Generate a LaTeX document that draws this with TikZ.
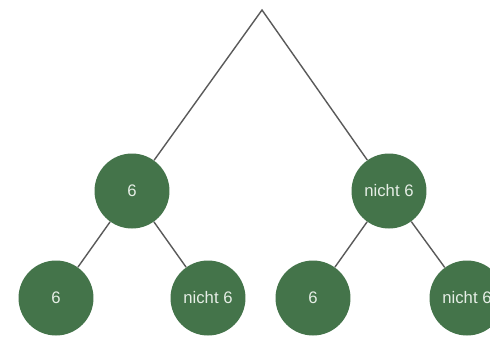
\documentclass[tikz,border=0pt]{standalone}
\usepackage{fontspec}
\setmainfont{Liberation Sans}
\definecolor{NodeGreen}{HTML}{44744A}
\definecolor{EdgeGrey}{HTML}{5A5A5A}
\definecolor{LabelInk}{HTML}{E6EEE6}
\begin{document}
\begin{tikzpicture}[
  x=0.02cm,y=-0.02cm,
  outcome/.style={circle,fill=NodeGreen,minimum size=1.5cm,inner sep=0pt,
                  text=LabelInk,font=\fontsize{9.5}{10}\selectfont},
  branch/.style={draw=EdgeGrey,line width=0.8pt},
]
  \clip (0,0) rectangle (490,336);
  \fill[white] (0,0) rectangle (490,336);

  \coordinate (top) at (262,10);
  \node[outcome] (six) at (132,191) {6};
  \node[outcome] (notsix) at (389,191) {nicht 6};

  \node[outcome] (sixsix) at (56,298) {6};
  \node[outcome] (sixnot) at (208,298) {nicht 6};
  \node[outcome] (notsix6) at (313,298) {6};
  \node[outcome] (notnot) at (467,298) {nicht 6};

  \draw[branch] (six) -- (top) -- (notsix);
  \draw[branch] (six) -- (sixsix);
  \draw[branch] (six) -- (sixnot);
  \draw[branch] (notsix) -- (notsix6);
  \draw[branch] (notsix) -- (notnot);
\end{tikzpicture}
\end{document}
